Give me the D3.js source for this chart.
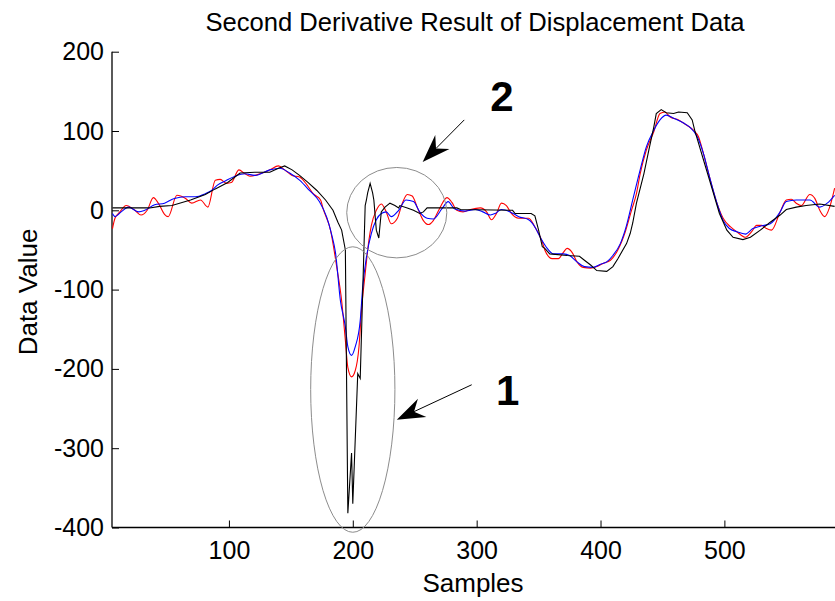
<!DOCTYPE html>
<html><head><meta charset="utf-8">
<script src="https://cdn.jsdelivr.net/npm/d3@7"></script>
<style>body{margin:0;background:#fff;} svg{display:block;} text{font-family:"Liberation Sans",Arial,sans-serif;}</style>
</head><body><svg id="c" width="835" height="601"></svg>
<script>
// ---- data (samples, values) ----
const blackSamples = [6,36,44,54,69,81,89,99,109,121,133,140,145,151,157,164,171,178,184,188,191,194,196,199,200,204,206,210,211,212,214,216,217,219,221,223,226,230,234,237,238,244,249,254,257,260,284,287,329,331,344,347,350,353,355,359,373,383,387,392,397,405,410,414,421,424,426,429,435,439,443,445,449,453,459,463,470,474,476,480,484,488,492,496,502,507,515,521,529,537,545,550,558,566,577,589];
const blackValues  = [3,3,5,6,13,20,27,35,47,48,48,53,56,51,44,35,25,13,0,-15,-25,-50,-382,-306,-370,-206,-212,6,13,22,34,22,13,-25,-35,-2,4,9,6,3,6,3,0,-4,-2,3,3,1,0,-4,-4,-7,-25,-46,-48,-55,-57,-58,-63,-69,-76,-77,-71,-61,-42,-29,-16,9,46,76,105,122,127,123,122,124,123,114,101,80,59,38,17,-4,-25,-34,-37,-34,-25,-15,-6,1,4,6,8,5];

const blueSamples = [6,8,13,19,27,32,40,48,56,65,73,81,86,91,97,105,113,121,133,141,149,157,165,173,179,183,186,190,194,196,199,202,206,208,211,215,219,223,227,231,237,243,249,254,260,265,272,277,282,291,299,305,311,315,320,327,334,342,347,352,356,362,370,375,381,387,394,400,405,410,416,421,426,432,437,443,448,453,459,467,472,478,483,488,494,499,504,510,517,523,529,537,545,550,558,569,577,583,589];
const blueValues  = [-4,-8,-2,4,-2,0,7,9,15,17,17,21,25,32,37,43,46,44,51,53,47,38,25,11,-9,-31,-53,-114,-147,-172,-183,-172,-139,-97,-59,-29,-12,-4,-2,-8,0,13,11,-2,-10,-11,2,11,2,-1,1,-2,-6,-4,1,-2,-8,-12,-21,-36,-46,-55,-55,-57,-65,-71,-72,-68,-65,-57,-42,-19,13,51,80,101,114,120,116,110,105,93,72,42,9,-13,-23,-27,-30,-23,-20,-17,-2,11,13,13,4,9,19];

const redSamples = [6,8,12,17,24,29,34,39,43,48,51,58,65,70,77,83,89,93,98,102,108,113,117,125,133,140,145,151,157,163,168,174,176,182,187,191,194,196,199,202,205,207,210,213,215,219,223,227,231,236,240,244,248,252,257,261,265,270,276,280,284,289,295,303,308,312,316,320,324,328,334,342,347,353,355,361,366,370,373,377,381,386,392,397,402,408,414,420,425,429,432,437,443,448,452,456,463,470,475,479,483,488,494,499,505,510,517,522,526,530,534,538,545,550,554,558,562,569,573,577,581,585,589];
const redValues  = [-23,-10,-2,6,0,-6,0,16,9,-5,-8,19,15,9,13,4,38,39,34,35,51,46,43,46,51,56,51,44,42,32,21,13,2,-25,-71,-114,-164,-198,-210,-202,-172,-126,-80,-38,-19,0,8,-2,-17,-10,9,20,18,4,-13,-18,-13,2,16,10,0,-2,1,3,-2,-12,-4,9,6,-4,-10,-10,-21,-40,-50,-61,-61,-53,-48,-53,-65,-72,-73,-71,-67,-63,-50,-27,0,21,46,76,99,122,124,118,114,107,101,93,72,42,9,-10,-21,-27,-34,-27,-19,-19,-23,-25,-2,13,14,9,6,20,15,0,-8,4,28];

const xTicks = [100,200,300,400,500];
const yTicks = [200,100,0,-100,-200,-300,-400];
const titleText = "Second Derivative Result of Displacement Data";
const xLabel = "Samples", yLabel = "Data Value";
// annotations (data coordinates)
const ellipses = [{s:200, v:-226, rs:34, rv:180},{s:235.5, v:-3, rs:40.4, rv:57}];
const arrows = [{from:[296,-220], to:[235.5,-264]},{from:[290,114], to:[256.4,61]}];
const labels = [{s:325, v:-227, t:"1"},{s:320.5, v:144, t:"2"}];

// ---- layout ----
const L=112, R=835, T=51.7, B=527.5;
const x = d3.scaleLinear().domain([5.6,589.3]).range([L,R]);
const y = d3.scaleLinear().domain([-400,200]).range([B,T]);
const svg = d3.select("#c");

svg.append("defs").append("clipPath").attr("id","clip")
  .append("rect").attr("x",L).attr("y",T-2).attr("width",R-L).attr("height",B-T+4);

// axes
const fmt = d => String(d);
const xAxis = d3.axisBottom(x).tickValues(xTicks).tickSize(-7).tickPadding(14).tickFormat(fmt);
const yAxis = d3.axisLeft(y).tickValues(yTicks).tickSize(-7).tickPadding(8).tickFormat(fmt);
const gx = svg.append("g").attr("transform",`translate(0,${B})`).call(xAxis);
const gy = svg.append("g").attr("transform",`translate(${L},0)`).call(yAxis);
[gx,gy].forEach(g=>{
  g.select(".domain").attr("stroke","#000").attr("stroke-width",1.3).attr("d", g===gx?`M${L},0H${R}`:`M0,${T}V${B}`);
  g.selectAll(".tick line").attr("stroke","#000").attr("stroke-width",1);
  g.selectAll(".tick text").attr("fill","#000").attr("font-size",25).attr("font-family","Liberation Sans, Arial, sans-serif");
});
gx.selectAll(".tick text").attr("dy","0.71em");

// series
const plot = svg.append("g").attr("clip-path","url(#clip)");
function series(sArr, vArr, color, curve){
  const pts = sArr.map((s,i)=>[s,vArr[i]]);
  plot.append("path").datum(pts)
    .attr("fill","none").attr("stroke",color).attr("stroke-width",1.1)
    .attr("d", d3.line().x(d=>x(d[0])).y(d=>y(d[1])).curve(curve));
}
series(redSamples, redValues, "#ff0000", d3.curveMonotoneX);
series(blueSamples, blueValues, "#0000ff", d3.curveMonotoneX);
series(blackSamples, blackValues, "#000000", d3.curveLinear);

// ellipses
const pxPerS = x(1)-x(0), pxPerV = y(0)-y(1);
ellipses.forEach(e=>{
  svg.append("ellipse").attr("cx",x(e.s)).attr("cy",y(e.v))
    .attr("rx",e.rs*pxPerS).attr("ry",e.rv*pxPerV)
    .attr("fill","none").attr("stroke","#8c8c8c").attr("stroke-width",1);
});

// arrows
arrows.forEach(a=>{
  const x0=x(a.from[0]), y0=y(a.from[1]), x1=x(a.to[0]), y1=y(a.to[1]);
  const dx=x1-x0, dy=y1-y0, len=Math.hypot(dx,dy), ux=dx/len, uy=dy/len;
  const px=-uy, py=ux, hl=28, hw=10, notch=19;
  svg.append("line").attr("x1",x0).attr("y1",y0).attr("x2",x1-ux*notch).attr("y2",y1-uy*notch)
    .attr("stroke","#000").attr("stroke-width",1);
  const pts=[[x1,y1],[x1-ux*hl+px*hw,y1-uy*hl+py*hw],[x1-ux*notch,y1-uy*notch],[x1-ux*hl-px*hw,y1-uy*hl-py*hw]];
  svg.append("path").attr("d","M"+pts.map(p=>p.join(",")).join("L")+"Z").attr("fill","#000");
});

// labels
labels.forEach(l=>{
  svg.append("text").attr("x",x(l.s)).attr("y",y(l.v)).attr("text-anchor","middle")
    .attr("dominant-baseline","central").attr("font-size",42).attr("font-weight","bold").text(l.t);
});

// titles
svg.append("text").attr("x",475).attr("y",31).attr("text-anchor","middle").attr("font-size",25.6).text(titleText);
svg.append("text").attr("x",473).attr("y",592).attr("text-anchor","middle").attr("font-size",26).text(xLabel);
svg.append("text").attr("transform","translate(37,292) rotate(-90)").attr("text-anchor","middle").attr("font-size",26).text(yLabel);
</script></body></html>
